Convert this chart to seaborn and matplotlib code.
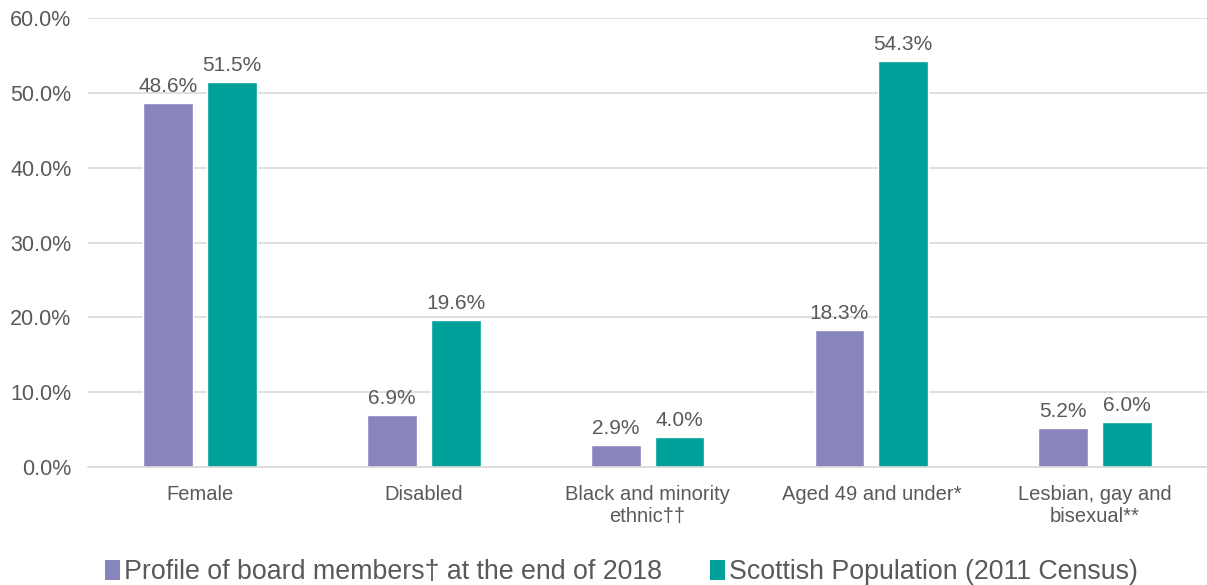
import matplotlib
matplotlib.use("Agg")
import matplotlib.pyplot as plt
import seaborn as sns
import pandas as pd
from matplotlib.ticker import FuncFormatter
from matplotlib.patches import Patch

categories = ["Female", "Disabled", "Black and minority\nethnic††",
              "Aged 49 and under*", "Lesbian, gay and\nbisexual**"]
series_names = ["Profile of board members† at the end of 2018",
                "Scottish Population (2011 Census)"]
board_values = [48.6, 6.9, 2.9, 18.3, 5.2]
population_values = [51.5, 19.6, 4.0, 54.3, 6.0]
y_ticks = [0, 10, 20, 30, 40, 50, 60]

colors = ["#8884BE", "#00A19A"]
text_color = "#595959"
grid_color = "#D9D9D9"

df = pd.DataFrame({
    "category": categories * 2,
    "series": [series_names[0]] * len(categories) + [series_names[1]] * len(categories),
    "value": board_values + population_values,
})

sns.set_theme(style="white")
plt.rcParams["font.family"] = ["Liberation Sans", "DejaVu Sans"]

fig = plt.figure(figsize=(12.07, 5.85), dpi=100)
ax = fig.add_axes([0.073, 0.2017, 0.927, 0.7675])

sns.barplot(data=df, x="category", y="value", hue="series", order=categories,
            hue_order=series_names, palette=colors, width=0.57, gap=0.22,
            saturation=1, legend=False, ax=ax)

for container in ax.containers:
    ax.bar_label(container, labels=[f"{v:.1f}%" for v in container.datavalues],
                 padding=5, fontsize=15, color=text_color)

ax.set_ylim(0, 60)
ax.set_xlim(-0.5, len(categories) - 0.5)
ax.set_yticks(y_ticks)
ax.yaxis.set_major_formatter(FuncFormatter(lambda v, _: f"{v:.1f}%"))
ax.yaxis.grid(True, color=grid_color, linewidth=1.2)
ax.set_axisbelow(True)
for side in ["top", "right", "left"]:
    ax.spines[side].set_visible(False)
ax.spines["bottom"].set_color(grid_color)
ax.spines["bottom"].set_linewidth(1.2)
ax.tick_params(axis="both", length=0, labelsize=15.5, labelcolor=text_color)
ax.tick_params(axis="x", labelsize=14.5, pad=13)
ax.tick_params(axis="y", pad=12)
ax.set_xlabel("")
ax.set_ylabel("")

handles = [Patch(facecolor=c, edgecolor="none") for c in colors]
fig.legend(handles, series_names, loc="lower center", bbox_to_anchor=(0.515, -0.042),
           ncol=2, frameon=False, fontsize=19.3, labelcolor=text_color,
           handlelength=0.55, handleheight=0.75, handletextpad=0.15, columnspacing=1.8)

fig.savefig("out.png", dpi=100)
